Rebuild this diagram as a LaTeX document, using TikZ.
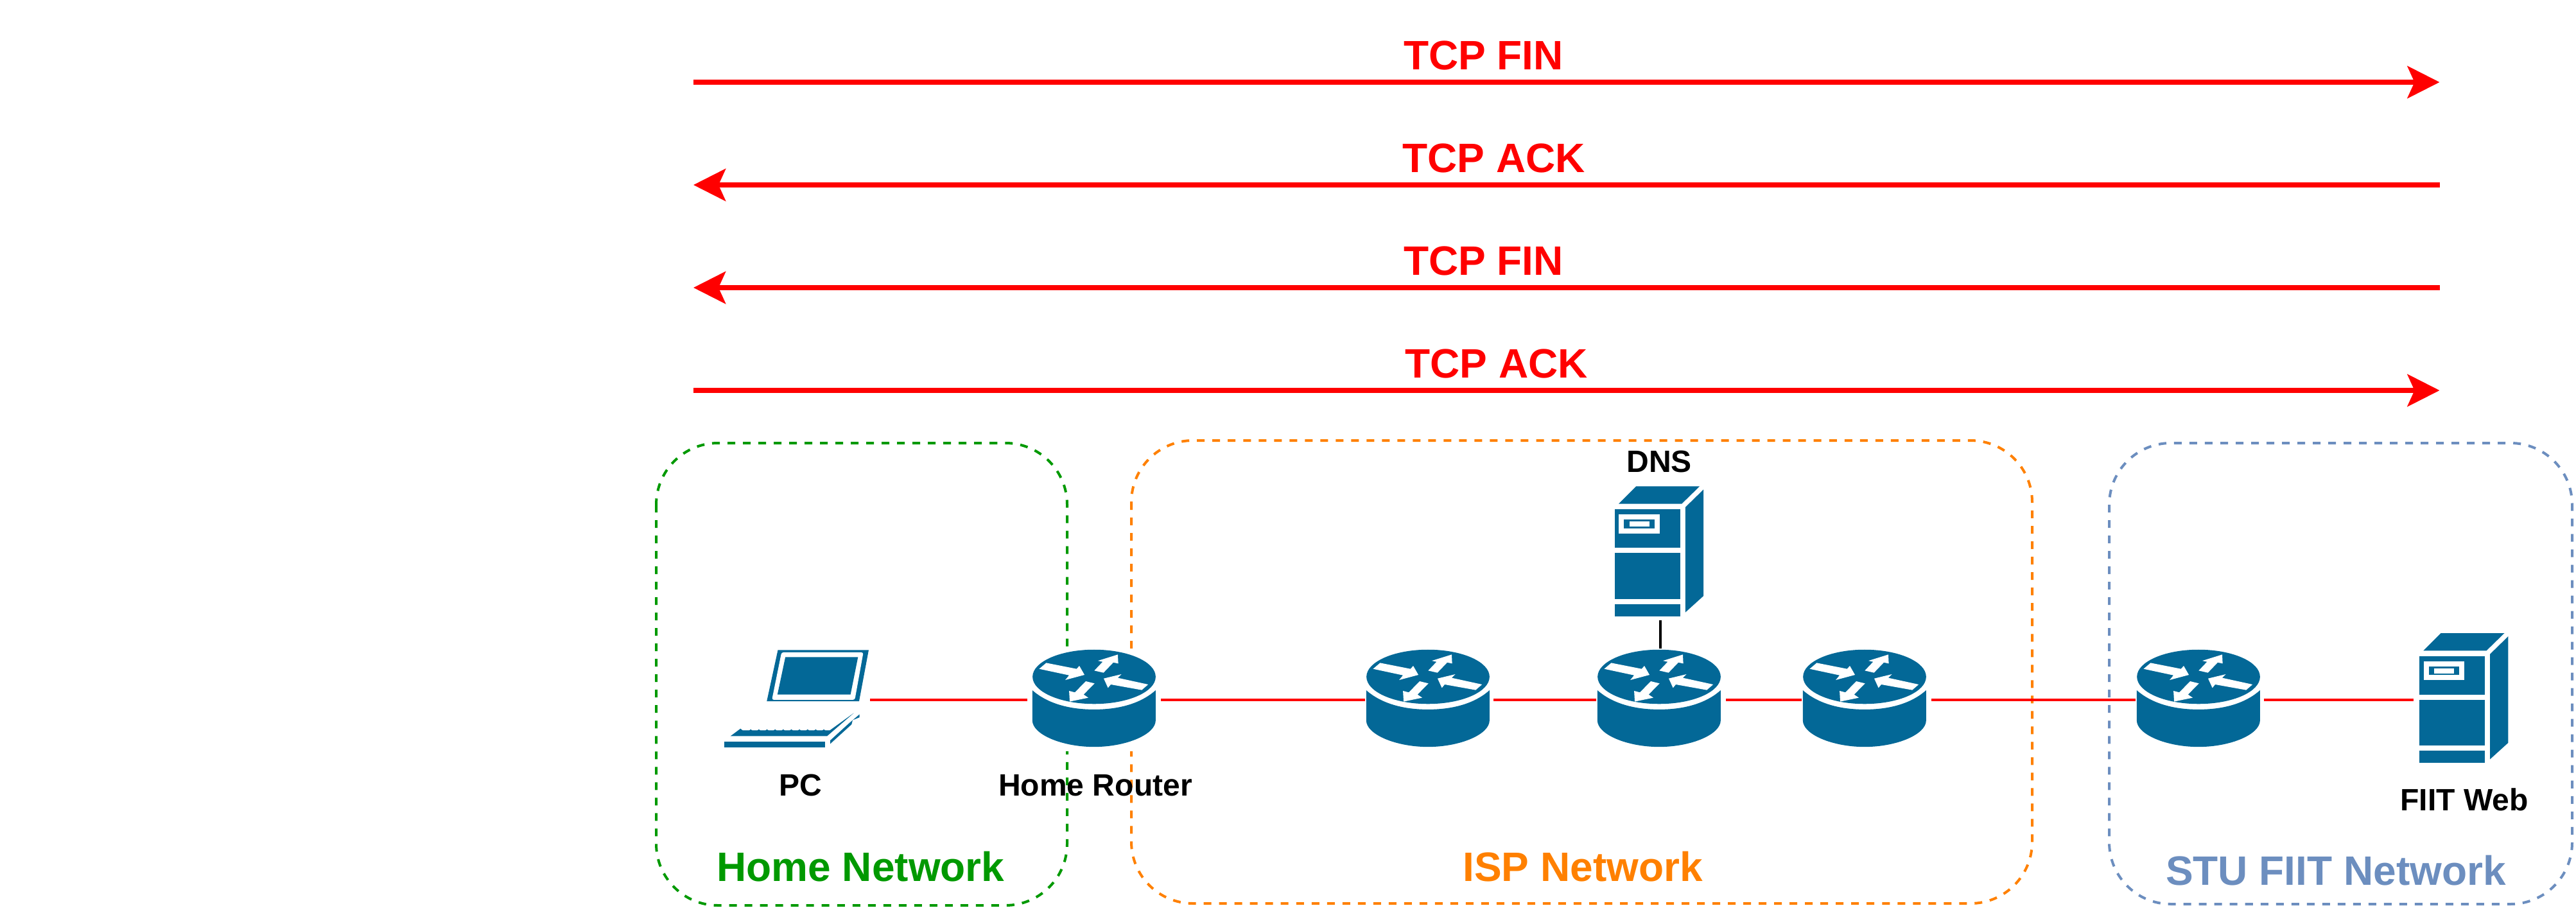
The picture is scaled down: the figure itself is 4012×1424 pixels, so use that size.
\documentclass[tikz,border=0pt]{standalone}
\usepackage{fontspec}
\setmainfont{Liberation Sans}
\usetikzlibrary{arrows.meta}
\definecolor{ciscoblue}{HTML}{036897}
\definecolor{homegreen}{HTML}{009900}
\definecolor{ispOrange}{HTML}{FF8000}
\definecolor{stublue}{HTML}{6C8EBF}
\tikzset{
  x=0.01cm,y=-0.01cm,
  zone/.style={line width=0.04cm,dash pattern=on 0.12cm off 0.12cm,rounded corners=0.96cm},
  msg/.style={draw=red,line width=0.08cm,-{Stealth[length=0.5cm,width=0.5cm,inset=0.11cm]}},
  msgtext/.style={text=red,font=\fontsize{18.2pt}{20pt}\selectfont\bfseries,anchor=base,inner sep=0pt},
  zonetext/.style={font=\fontsize{18.2pt}{20pt}\selectfont\bfseries,anchor=base,inner sep=0pt},
  devtext/.style={text=black,font=\fontsize{13.66pt}{16pt}\selectfont\bfseries,anchor=base,inner sep=0pt},
  link/.style={draw=red,line width=0.04cm},
  uplink/.style={draw=black,line width=0.04cm},
  devbox/.style={fill=white,draw=none,inner sep=0pt,outer sep=0pt},
  icon/.style={fill=ciscoblue,draw=none},
  iconw/.style={fill=white,draw=none},
}
% router icon, #1 x, #2 y of disc centre; coordinates in zoomed pixels (1/3 unit)
\newcommand{\routericon}[2]{%
  \begin{scope}[shift={(#1,#2)},x=0.00333333cm,y=-0.00333333cm]
    \fill[icon] (0,0) ellipse [x radius=288,y radius=127];
    \fill[icon] (-289,63) .. controls (-215,128) and (-110,153) .. (0,153)
      .. controls (110,153) and (215,128) .. (288,63) -- (288,204)
      .. controls (288,270) and (150,328) .. (0,328)
      .. controls (-150,328) and (-289,270) .. (-289,204) -- cycle;
    \begin{scope}[shift={(-372,-192)}]
      \fill[iconw] (115,155) -- (148,127) -- (290,155) -- (303,141) -- (327,183) -- (237,207) -- (255,185) -- cycle;
      \fill[iconw] (373,163) -- (412,122) -- (390,117) -- (483,88) -- (485,130) -- (462,125) -- (416,173) -- cycle;
      \fill[iconw] (625,228) -- (483,197) -- (500,180) -- (417,200) -- (437,244) -- (450,228) -- (595,254) -- cycle;
      \fill[iconw] (333,213) -- (282,265) -- (255,258) -- (258,308) -- (345,290) -- (323,275) -- (374,223) -- cycle;
    \end{scope}
  \end{scope}}
% server icon, #1 left x, #2 top y
\newcommand{\servericon}[2]{%
  \begin{scope}[shift={(#1,#2)},x=0.00333333cm,y=-0.00333333cm]
    \begin{scope}[shift={(-74,-52)}]
      \fill[icon] (93,134) -- (175,52) -- (472,52) -- (388,134) -- cycle;
      \fill[icon] (405,150) -- (490,67) -- (490,565) -- (405,642) -- cycle;
      \fill[icon] (74,160) rectangle (381,339);
      \fill[icon] (74,363) rectangle (381,579);
      \fill[icon] (74,603) rectangle (381,660);
      \fill[iconw] (94,183) rectangle (285,272);
      \fill[icon] (118,207) rectangle (261,248);
      \fill[iconw] (143,216) rectangle (237,240);
    \end{scope}
  \end{scope}}
% laptop icon, #1 x, #2 y of the crop origin
\newcommand{\laptopicon}[2]{%
  \begin{scope}[shift={(#1,#2)},x=0.00333333cm,y=-0.00333333cm]
    \fill[icon] (305,37) -- (730,37) -- (685,277) -- (253,277) -- cycle;
    \fill[iconw,rounded corners=0.03cm] (322,48) -- (705,48) -- (665,270) -- (277,270) -- cycle;
    \fill[icon] (340,70) -- (680,70) -- (645,245) -- (303,245) -- cycle;
    \fill[icon] (83,440) -- (130,405) -- (140,413) -- (548,413) -- (660,332) -- (535,440) -- cycle;
    \foreach \k in {178,216,254,292,330,368,406,444,482,520}
      \fill[icon] (\k-7,414) -- (\k,408) -- (\k+7,414) -- cycle;
    \fill[icon] (53,466) rectangle (525,492);
    \fill[icon] (550,460) -- (550,476) -- (650,385) -- (655,365) -- (687,352) -- (687,338) -- (640,378) -- cycle;
  \end{scope}}
\begin{document}
\begin{tikzpicture}
\useasboundingbox (0,0) rectangle (4012,1424);

% network zones
\draw[zone,draw=homegreen] (1022,690) rectangle (1662,1410);
\draw[zone,draw=ispOrange] (1762,686) rectangle (3165,1407);
\draw[zone,draw=stublue] (3285,690) rectangle (4006,1408);

% TCP messages
\coordinate (aL1) at (1080,128); \coordinate (aR1) at (3799.5,128);
\coordinate (aL2) at (1080,288); \coordinate (aR2) at (3799.5,288);
\coordinate (aL3) at (1080,448); \coordinate (aR3) at (3799.5,448);
\coordinate (aL4) at (1080,608); \coordinate (aR4) at (3799.5,608);
\draw[msg] (aL1) -- (aR1);
\draw[msg] (aR2) -- (aL2);
\draw[msg] (aR3) -- (aL3);
\draw[msg] (aL4) -- (aR4);
\node[msgtext] (t1) at (2310.5,108.3) {TCP FIN};
\node[msgtext] (t2) at (2326.5,268.3) {TCP ACK};
\node[msgtext] (t3) at (2310.5,428.3) {TCP FIN};
\node[msgtext] (t4) at (2330.5,588.3) {TCP ACK};

% device boxes
\node[devbox,minimum width=2.27cm,minimum height=1.6cm] (pc) at (1241.5,1090) {};
\node[devbox,minimum width=2.08cm,minimum height=1.6cm] (r1) at (1704,1090) {};
\node[devbox,minimum width=2.0cm,minimum height=1.6cm] (r2) at (2226,1090) {};
\node[devbox,minimum width=2.02cm,minimum height=1.6cm] (r3) at (2587,1090) {};
\node[devbox,minimum width=2.02cm,minimum height=1.6cm] (r4) at (2907,1090) {};
\node[devbox,minimum width=2.0cm,minimum height=1.6cm] (r5) at (3426,1090) {};
\node[devbox,minimum width=1.5cm,minimum height=2.12cm] (dns) at (2586,860) {};
\node[devbox,minimum width=1.56cm,minimum height=2.08cm] (web) at (3837,1090) {};

% links
\draw[link] (pc.east) -- (r1.west);
\draw[link] (r1.east) -- (r2.west);
\draw[link] (r2.east) -- (r3.west);
\draw[link] (r3.east) -- (r4.west);
\draw[link] (r4.east) -- (r5.west);
\draw[link] (r5.east) -- (web.west);
\draw[uplink] (dns.south) -- (dns.south |- r3.north);

% icons
\laptopicon{1110}{1000}
\routericon{1704}{1054}
\routericon{2224}{1054}
\routericon{2584}{1054}
\routericon{2904}{1054}
\routericon{3424}{1054}
\servericon{2514.7}{757.3}
\servericon{3768}{986}

% labels
\node[devtext] (lpc) at (1247,1239.5) {PC};
\node[devtext] (lr1) at (1706,1239.5) {Home Router};
\node[devtext] (ldns) at (2584,735) {DNS};
\node[devtext] (lweb) at (3838,1262) {FIIT Web};
\node[zonetext,text=homegreen] (lhome) at (1340.5,1372) {Home Network};
\node[zonetext,text=ispOrange] (lisp) at (2465,1372) {ISP Network};
\node[zonetext,text=stublue] (lstu) at (3638,1378) {STU FIIT Network};
\end{tikzpicture}
\end{document}
